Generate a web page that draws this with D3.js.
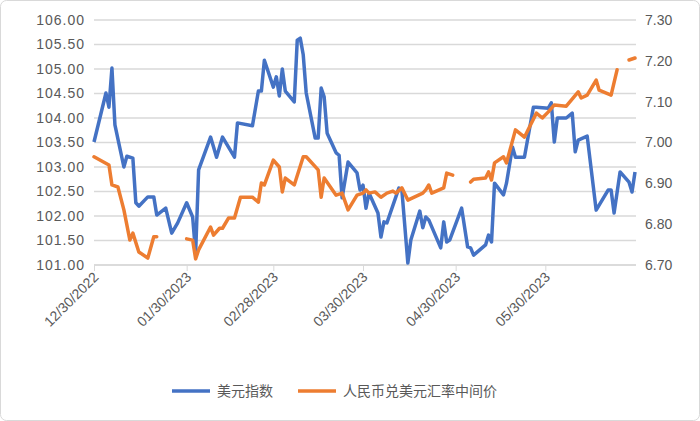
<!DOCTYPE html>
<html><head><meta charset="utf-8">
<script src="https://cdn.jsdelivr.net/npm/d3@7"></script>
<style>body{margin:0;background:#fff}</style></head>
<body><svg id="c" width="700" height="421"></svg>
<script>
const startDate = "2022-12-30";
const tickLabels = ["12/30/2022","01/30/2023","02/28/2023","03/30/2023","04/30/2023","05/30/2023"];
const leftTicks = [101,101.5,102,102.5,103,103.5,104,104.5,105,105.5,106];
const rightTicks = [6.7,6.8,6.9,7.0,7.1,7.2,7.3];
const seriesNames = ["美元指数","人民币兑美元汇率中间价"];
// day offsets from startDate
const usdDays = [0,4,5,6,7,10,11,13,14,15,18,20,21,24,26,28,31,33,34,35,39,40,41,43,47,48,53,55,56,57,60,61,62,63,64,67,68,69,70,71,74,75,76,77,78,81,82,83,85,88,89,90,91,
92,95,96,97,98,102,103,105,106,109,110,111,112,116,117,118,119,123,125,126,127,131,132,133,134,137,138,140,141,144,147,148,152,153,154,155,158,160,161,162,165,168,172,173,174,176,179,180,181];
const usdValues = [103.51,104.51,104.22,105.02,103.86,103.0,103.22,103.18,102.27,102.20,102.39,102.39,102.02,102.16,101.65,101.86,102.27,101.98,101.24,102.94,103.61,103.41,103.20,103.61,103.20,103.90,103.84,104.55,104.55,105.18,104.63,104.84,104.45,105.0,104.55,104.33,105.59,105.63,105.29,104.51,103.59,103.59,104.61,104.43,103.69,103.29,103.24,102.37,103.10,102.88,102.53,102.63,102.16,
102.47,102.06,101.57,101.88,101.86,102.57,102.53,101.04,101.51,102.10,101.76,101.98,101.92,101.35,101.88,101.47,101.51,102.16,101.37,101.35,101.20,101.41,101.61,101.47,102.67,102.43,102.67,103.41,103.20,103.20,104.22,104.22,104.20,104.31,103.51,104.0,104.0,104.10,103.31,103.55,103.63,102.12,102.53,102.53,102.06,102.90,102.69,102.49,102.90];
const cnyDays = [0,5,6,8,10,12,13,15,18,20,21,25,31,33,34,35,39,40,42,43,45,47,49,53,55,56,57,60,62,63,64,67,70,71,75,76,77,81,83,85,88,90,91,92,94,96,98,100,101,103,105,110,111,112,113,117,118,120,123,126,127,131,132,133,134,137,138,141,144,148,150,152,154,158,162,163,165,168,169,173,175,177,179,181];
const cnyValues = [6.965,6.945,6.896,6.891,6.835,6.761,6.778,6.732,6.717,6.769,6.769,null,6.764,6.761,6.715,6.737,6.793,6.773,6.790,6.790,6.815,6.815,6.866,6.866,6.854,6.901,6.896,6.957,6.940,6.879,6.913,6.896,6.965,6.965,6.933,6.866,6.913,6.871,6.876,6.835,6.871,6.876,6.884,6.876,6.879,6.866,6.876,6.881,6.876,6.889,6.859,6.876,6.884,6.896,6.876,6.889,6.925,6.920,null,6.903,6.910,6.913,6.928,6.908,6.950,6.965,6.950,7.031,7.013,7.072,7.060,7.075,7.092,7.089,7.124,7.109,7.116,7.153,7.128,7.116,7.178,null,7.202,7.207];

const parse = d3.timeParse("%m/%d/%Y");
const t0 = d3.timeParse("%Y-%m-%d")(startDate);
const dayToDate = d => d3.timeDay.offset(t0, d);
const svg = d3.select("#c");
const font = "'Liberation Sans', 'Noto Sans CJK SC', sans-serif";
svg.append("rect").attr("x",0.5).attr("y",0.5).attr("width",699).attr("height",420).attr("rx",6).attr("fill","#fff").attr("stroke","#d9d9d9");

const x = d3.scaleTime().domain([t0, dayToDate(182)]).range([94, 638]);
const yL = d3.scaleLinear().domain([101,106]).range([265,20]);
const yR = d3.scaleLinear().domain([6.7,7.3]).range([265,20]);

svg.append("g").selectAll("line").data(leftTicks).join("line")
 .attr("x1",94).attr("x2",636).attr("y1",d=>yL(d)).attr("y2",d=>yL(d))
 .attr("stroke","#d9d9d9").attr("stroke-width",1.3);

const gl = svg.append("g").attr("transform","translate(94,0)")
 .call(d3.axisLeft(yL).tickValues(leftTicks).tickFormat(d3.format(".2f")).tickSize(0).tickPadding(9));
gl.select(".domain").remove();
gl.selectAll("text").attr("font-size",14).attr("font-family",font).attr("fill","#595959").style("letter-spacing","1px");

const gr = svg.append("g").attr("transform","translate(636,0)")
 .call(d3.axisRight(yR).tickValues(rightTicks).tickFormat(d3.format(".2f")).tickSize(0).tickPadding(9));
gr.select(".domain").remove();
gr.selectAll("text").attr("font-size",14).attr("font-family",font).attr("fill","#595959");

const gx = svg.append("g").attr("transform","translate(0,265)")
 .call(d3.axisBottom(x).tickValues(tickLabels.map(parse)).tickFormat(d3.timeFormat("%m/%d/%Y")).tickSize(6).tickPadding(4));
gx.select(".domain").attr("stroke","#d9d9d9").attr("stroke-width",1.3).attr("d","M94,0H636");
gx.selectAll("line").attr("stroke","#d9d9d9");
gx.selectAll("text").attr("font-size",14).attr("font-family",font).attr("fill","#595959")
 .attr("text-anchor","end").attr("dy","0").attr("transform","translate(-2,6) rotate(-45)");

const usd = usdDays.map((d,i)=>({t:dayToDate(d),v:usdValues[i]}));
const cny = cnyDays.map((d,i)=>({t:dayToDate(d),v:cnyValues[i]}));
svg.append("path").datum(usd).attr("fill","none").attr("stroke","#4472C4").attr("stroke-width",3.5).attr("stroke-linejoin","round")
 .attr("d",d3.line().x(d=>x(d.t)).y(d=>yL(d.v)));
svg.append("path").datum(cny).attr("fill","none").attr("stroke","#ED7D31").attr("stroke-width",3.5).attr("stroke-linejoin","round").attr("stroke-linecap","round")
 .attr("d",d3.line().defined(d=>d.v!==null).x(d=>x(d.t)).y(d=>yR(d.v)));

const leg = [{c:"#4472C4",x:172},{c:"#ED7D31",x:298}];
leg.forEach((l,i)=>{
 svg.append("line").attr("x1",l.x).attr("x2",l.x+38).attr("y1",391).attr("y2",391).attr("stroke",l.c).attr("stroke-width",3.5);
 svg.append("text").attr("x",l.x+45).attr("y",396).attr("font-size",14).attr("font-family",font).attr("fill","#595959").text(seriesNames[i]);
});
</script></body></html>
